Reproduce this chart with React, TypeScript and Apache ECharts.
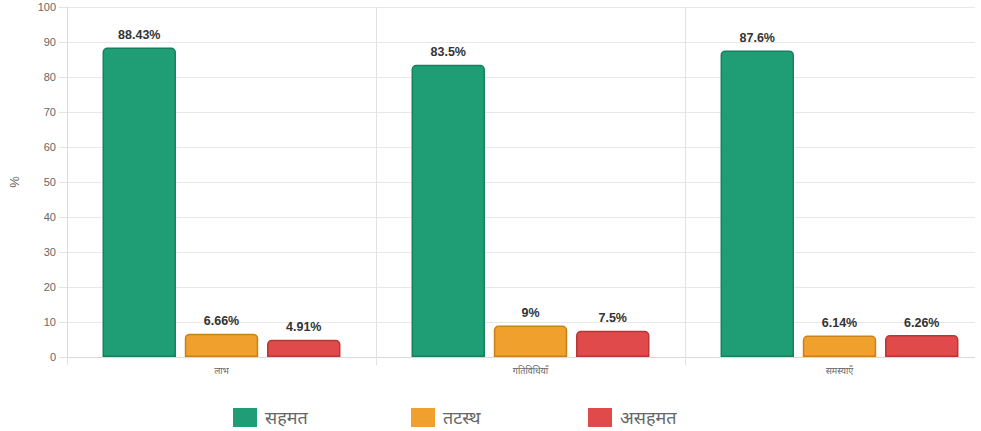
import React, { useEffect, useRef } from "react";
import * as echarts from "echarts";

const categories = ["लाभ", "गतिविधियाँ", "समस्याएँ"];
const seriesNames = ["सहमत", "तटस्थ", "असहमत"];
const agreeValues = [88.43, 83.5, 87.6];
const neutralValues = [6.66, 9, 6.14];
const disagreeValues = [4.91, 7.5, 6.26];
const yTicks = { min: 0, max: 100, interval: 10 };

const colors = ["#1f9e76", "#f0a02c", "#e04a4a"];
const borders = ["#16805e", "#c98119", "#b83636"];
const legendLefts = [233, 411, 588];

const FONT = "'Liberation Sans', Arial, 'Noto Sans', sans-serif";

export default function App() {
  const ref = useRef<HTMLDivElement>(null);
  useEffect(() => {
    if (!ref.current) return;
    const chart = echarts.init(ref.current, undefined, { renderer: "svg" });
    const allValues = [agreeValues, neutralValues, disagreeValues];
    chart.setOption({
      animation: false,
      textStyle: { fontFamily: FONT },
      grid: { left: 67, top: 7, width: 927, bottom: 74, containLabel: false },
      legend: seriesNames.map((n, i) => ({
        data: [n],
        left: legendLefts[i],
        top: 408,
        padding: 0,
        itemWidth: 24,
        itemHeight: 19,
        itemGap: 10,
        icon: "rect",
        itemStyle: { borderWidth: 0 },
        textStyle: { color: "#666", fontSize: 18, fontFamily: FONT, padding: [0, 0, 0, 3] },
      })),
      xAxis: {
        type: "category",
        data: categories,
        boundaryGap: true,
        axisLine: { show: true, lineStyle: { color: "#d9d9d9" } },
        axisTick: { show: true, length: 8, lineStyle: { color: "#e2e2e2" } },
        splitLine: { show: true, lineStyle: { color: "#e2e2e2" } },
        axisLabel: { color: "#666", fontSize: 9, margin: 9, fontFamily: FONT },
      },
      yAxis: {
        type: "value",
        min: yTicks.min,
        max: yTicks.max,
        interval: yTicks.interval,
        name: "%",
        nameLocation: "middle",
        nameRotate: 90,
        nameGap: 46,
        nameTextStyle: { color: "#666", fontSize: 13, fontFamily: FONT },
        axisLine: { show: true, lineStyle: { color: "#d9d9d9" } },
        axisTick: { show: true, length: 8, lineStyle: { color: "#e2e2e2" } },
        splitLine: { show: true, lineStyle: { color: "#e8e8e8" } },
        axisLabel: { color: "#666666", fontSize: 11, margin: 11, fontFamily: FONT },
      },
      series: seriesNames.map((n, i) => ({
        name: n,
        type: "bar",
        data: allValues[i],
        barGap: "12%",
        barCategoryGap: "23%",
        itemStyle: {
          color: colors[i],
          borderColor: borders[i],
          borderWidth: 1.5,
          borderRadius: [4, 4, 0, 0],
        },
        label: {
          show: true,
          position: "top",
          distance: 6,
          formatter: "{c}%",
          color: "#333",
          fontWeight: "bold",
          fontSize: 12.5,
          fontFamily: FONT,
        },
      })),
      graphic: [
        {
          type: "rect",
          left: 975,
          top: 0,
          shape: { width: 40, height: 372 },
          style: { fill: "#fff" },
          z: 100,
        },
      ],
    });
    return () => chart.dispose();
  }, []);
  return (
    <div
      style={{ position: "fixed", left: 0, top: 0, width: 981, height: 431, overflow: "hidden", background: "#fff" }}
    >
      <div ref={ref} style={{ width: 1010, height: 431 }} />
    </div>
  );
}
